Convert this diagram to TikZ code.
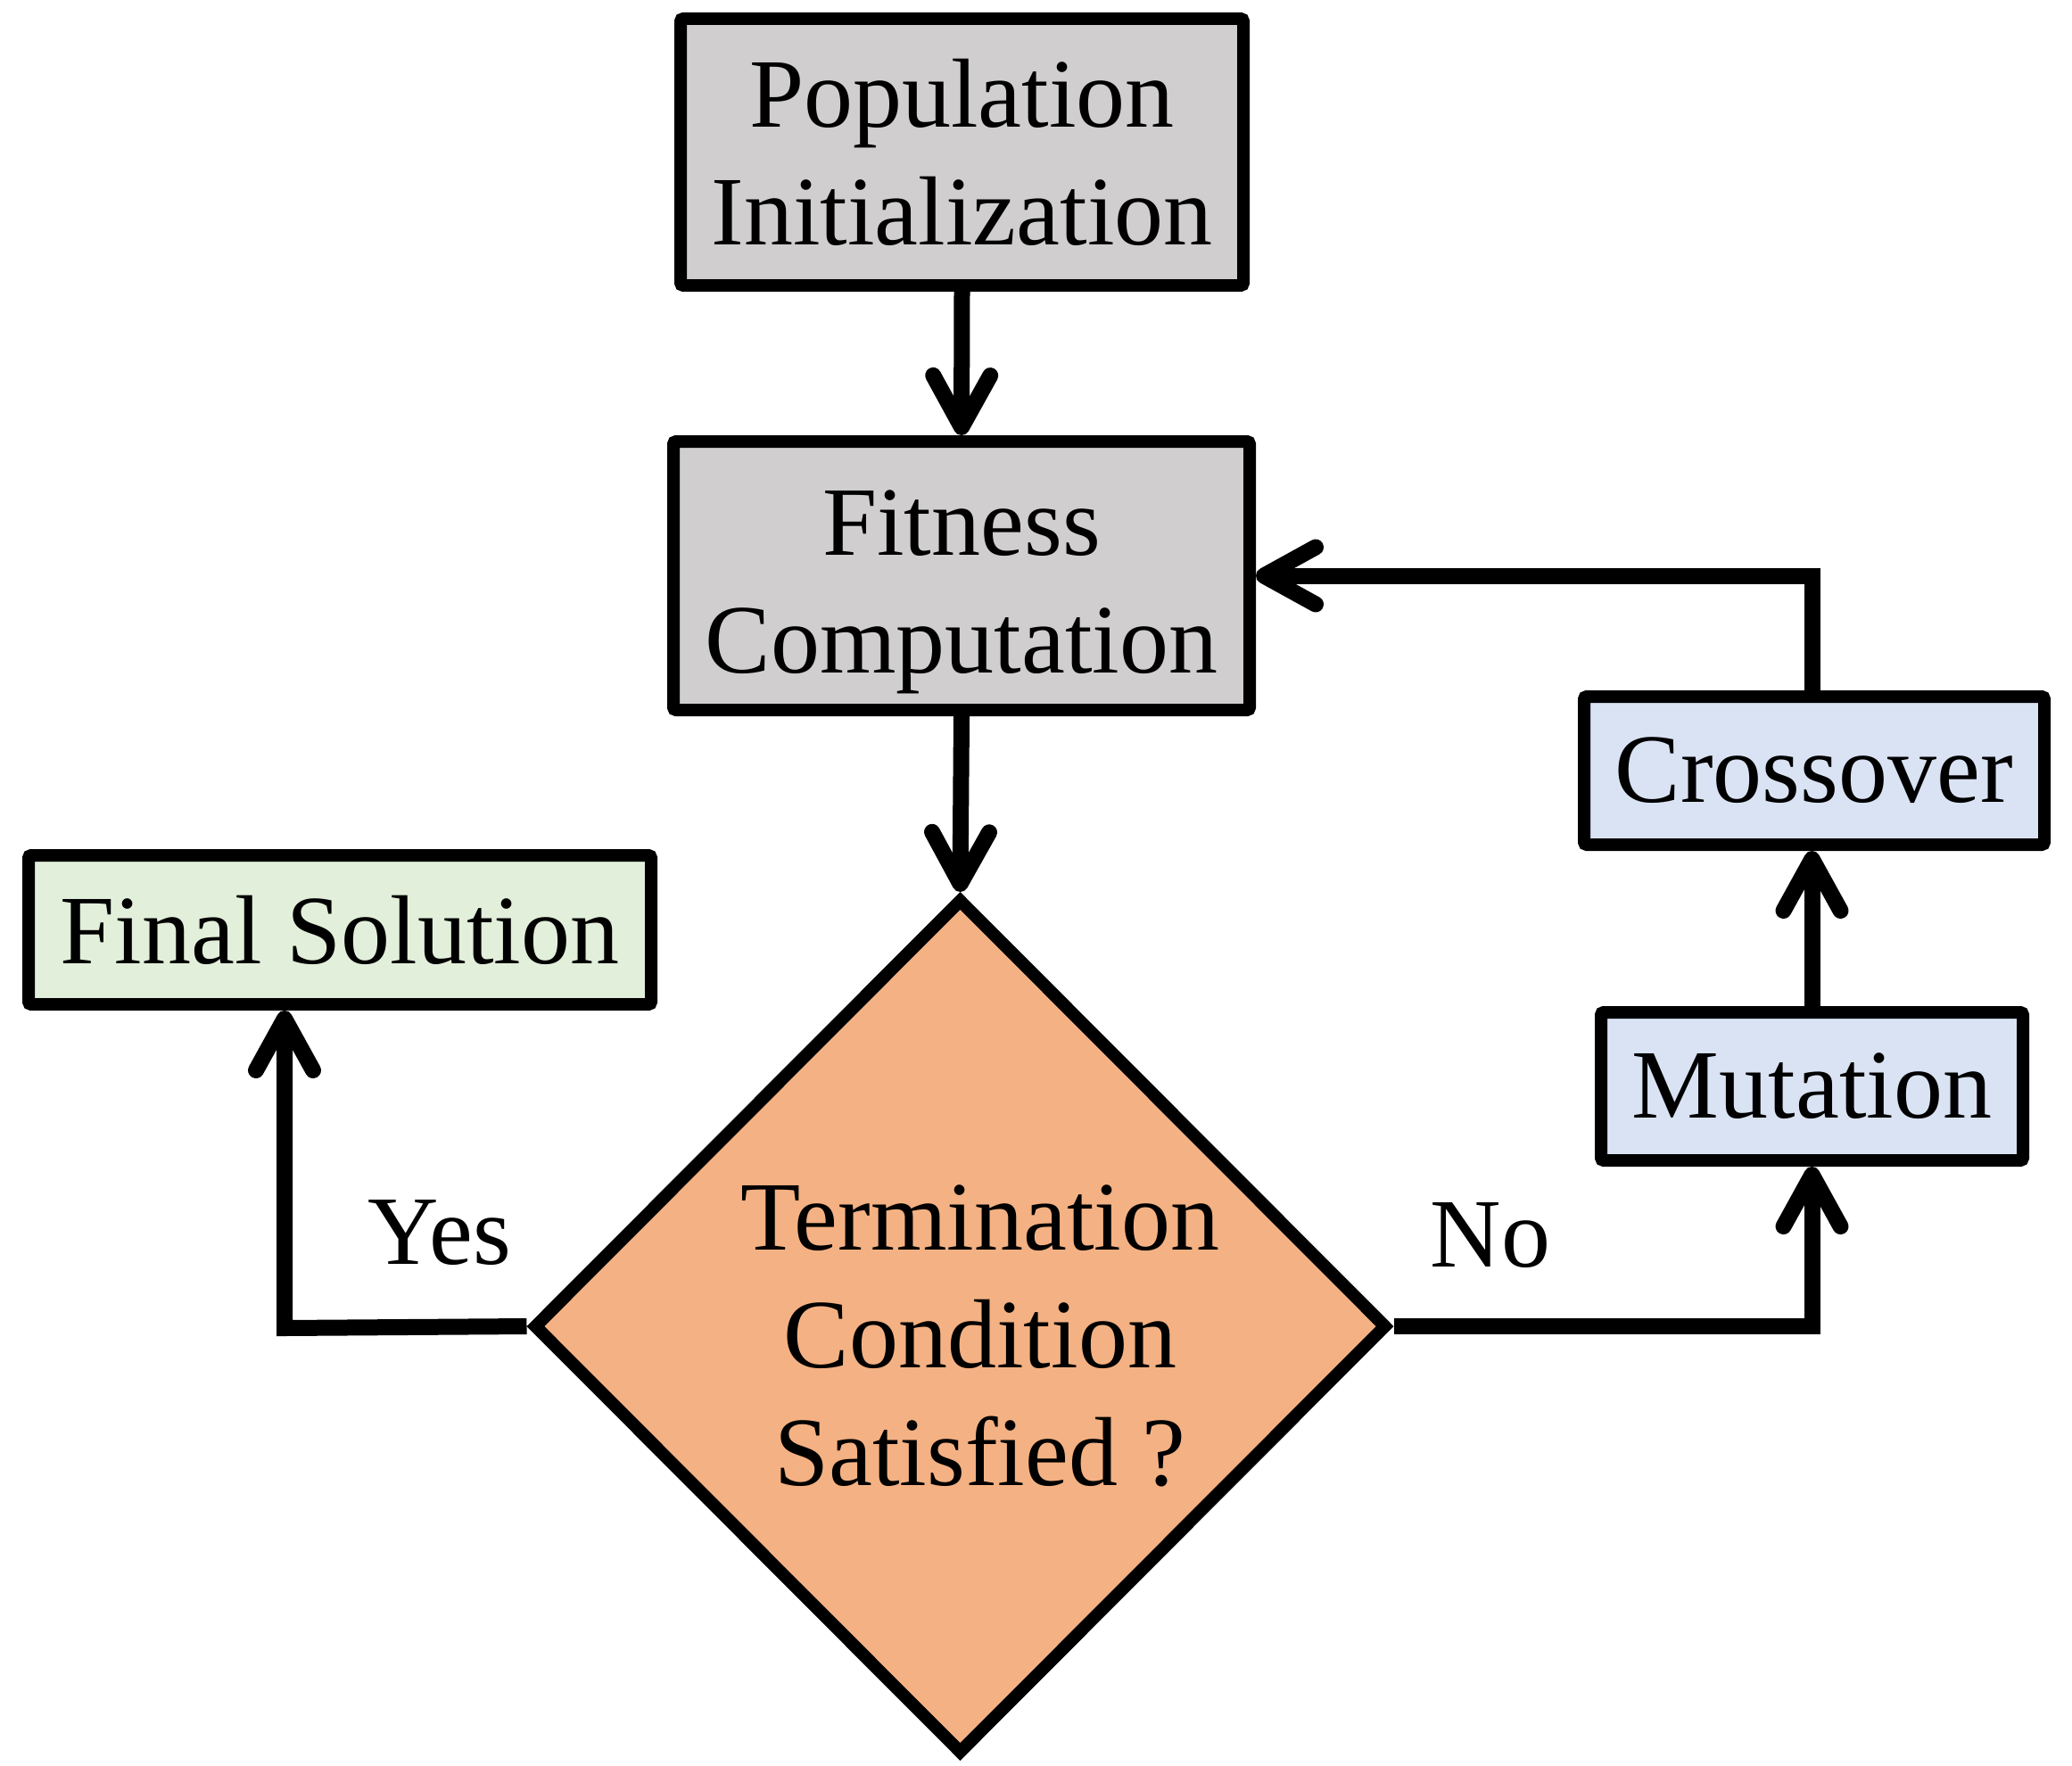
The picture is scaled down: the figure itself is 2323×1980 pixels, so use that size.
\documentclass[tikz,border=0pt]{standalone}
\usepackage{fontspec}
\setmainfont{Liberation Serif}
\usetikzlibrary{arrows.meta,shapes.geometric}
\definecolor{boxgray}{HTML}{D0CECE}
\definecolor{dorange}{HTML}{F4B183}
\definecolor{fgreen}{HTML}{E2EFDA}
\definecolor{sblue}{HTML}{DAE3F3}
\begin{document}
\begin{tikzpicture}[x=0.5pt,y=-0.5pt,
  bigfont/.style={font=\fontsize{55}{66}\selectfont},
  box/.style={draw=black, line width=7pt, rounded corners=1.5pt, inner sep=0pt, align=center, bigfont},
  arr/.style={line width=9pt, line join=miter, -{Straight Barb[length=29pt,width=32pt,round]}},
  lbl/.style={inner sep=0pt, align=center, bigfont}]
\useasboundingbox (0,0) rectangle (2323,1980);

\node[box, fill=boxgray, minimum width=315.5pt, minimum height=149.5pt] (pop) at (1078.5,170.5) {Population\\Initialization};
\node[box, fill=boxgray, minimum width=323pt, minimum height=150.5pt] (fit) at (1078,645.5) {};
\node[lbl] (fittext) at (1078,664) {Fitness\\Computation};
\node[draw=black, line width=7pt, fill=dorange, shape=diamond, inner sep=0pt, minimum width=479pt, minimum height=480pt] (dia) at (1076.5,1487) {};
\node[lbl] (dtext) at (1099,1498) {Termination\\Condition\\Satisfied ?};
\node[box, fill=fgreen, minimum width=349pt, minimum height=83.5pt] (fs) at (381,1042.5) {Final Solution};
\node[box, fill=sblue, minimum width=258pt, minimum height=83pt] (cross) at (2034,864) {Crossover};
\node[box, fill=sblue, minimum width=236.5pt, minimum height=83pt] (mut) at (2031.5,1218) {Mutation};

\node[lbl] (yes) at (493,1382) {Yes};
\node[lbl] (no) at (1671,1385) {No};

\coordinate (yc) at (319,1489);

\draw[arr] (pop.south) -- (fit.north);
\draw[arr] (fit.south) -- (dia.north);
\draw[arr] (dia.west) -- (yc) -- (yc |- fs.south);
\draw[arr] (dia.east) -| (mut.south);
\draw[arr] (mut.north) -- (mut.north |- cross.south);
\draw[arr] (mut.north |- cross.north) |- (fit.east);
\end{tikzpicture}
\end{document}
